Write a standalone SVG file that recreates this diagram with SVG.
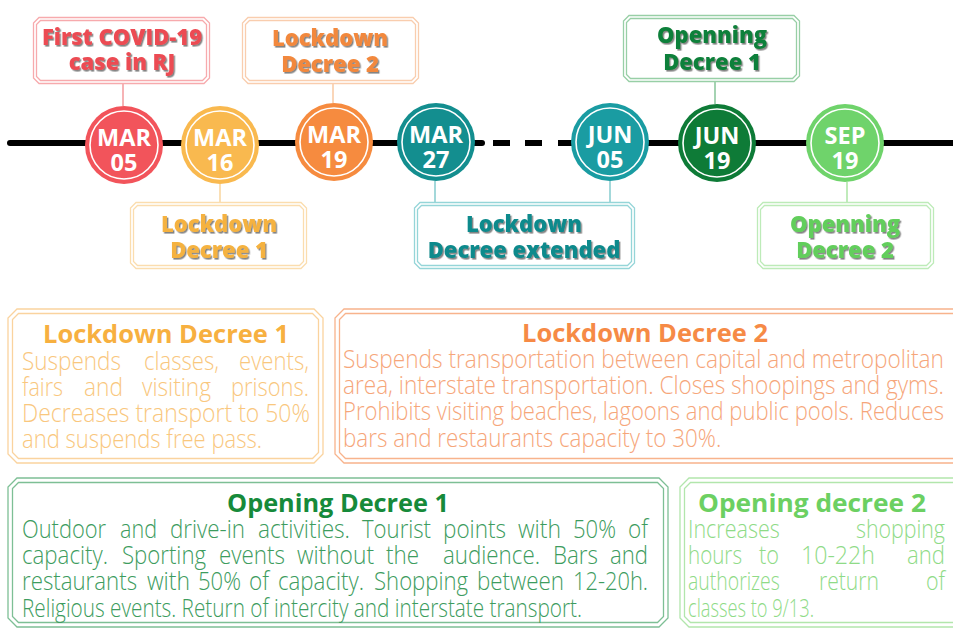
<svg xmlns="http://www.w3.org/2000/svg" width="953" height="628" viewBox="0 0 953 628">
<style>
  .bg{fill:#fff}
  .frame{fill:none;stroke-width:1.3}
  .lbl{font-family:"Open Sans","Liberation Sans",sans-serif;font-weight:800;font-size:22px;text-anchor:middle;filter:url(#sh)}
  .date{font-family:"Open Sans","Liberation Sans",sans-serif;font-weight:700;font-size:23.5px;fill:#fff;text-anchor:middle}
  .ring{fill:none;stroke:#fff;stroke-width:1.6}
  .ttl{font-family:"Open Sans","Liberation Sans",sans-serif;font-weight:700;font-size:25px}
  .body{font-family:"Open Sans","Liberation Sans",sans-serif;font-weight:300;font-size:25px}
  .conn{stroke-width:1.5;fill:none}
  .axis{stroke:#000;stroke-width:6;fill:none}
</style>
<defs>
  <filter id="sh" x="-10%" y="-30%" width="120%" height="160%">
    <feDropShadow dx="1.4" dy="1.6" stdDeviation="0.7" flood-color="#333" flood-opacity="0.6"/>
  </filter>
  <!-- double chamfered frame used by the small event labels -->
  <g id="lf">
    <path d="M6,0.5 H171 L176.5,6 V61 L171,66.5 H6 L0.5,61 V6 Z"/>
    <path d="M7.5,3.5 H169.5 L173.5,7.5 V59.5 L169.5,63.5 H7.5 L3.5,59.5 V7.5 Z"/>
  </g>
</defs>
<rect class="bg" width="953" height="628"/>

<!-- timeline axis and connectors -->
<g id="connectors">
  <path class="axis" d="M10,143 H482" stroke-linecap="round"/>
  <path class="axis" d="M493,143 H510 M525,143 H542 M558,143 H953"/>
  <path class="conn" stroke="#F39A9D" d="M123,84 V106"/>
  <path class="conn" stroke="#F9C9A2" d="M333,84 V103"/>
  <path class="conn" stroke="#F9D49C" d="M220,184 V202"/>
  <path class="conn" stroke="#84CBCE" d="M435,181 V202"/>
  <path class="conn" stroke="#84CBCE" d="M610,181 V202"/>
  <path class="conn" stroke="#86C598" d="M715,82 V104"/>
  <path class="conn" stroke="#ABE4A5" d="M847,182 V202"/>
</g>

<!-- dates on the axis -->
<g id="mar05"><circle cx="124" cy="145" r="39" fill="#F2545B"/><circle class="ring" cx="124" cy="145" r="34"/><text class="date" x="124" y="146">MAR</text><text class="date" x="124" y="171">05</text></g>
<g id="mar16"><circle cx="220" cy="145" r="39" fill="#F9B94F"/><circle class="ring" cx="220" cy="145" r="34"/><text class="date" x="220" y="146">MAR</text><text class="date" x="220" y="171">16</text></g>
<g id="mar19"><circle cx="334" cy="142" r="39" fill="#F68B3F"/><circle class="ring" cx="334" cy="142" r="34"/><text class="date" x="334" y="143">MAR</text><text class="date" x="334" y="168">19</text></g>
<g id="mar27"><circle cx="436" cy="142" r="39" fill="#138E8F"/><circle class="ring" cx="436" cy="142" r="34"/><text class="date" x="436" y="143">MAR</text><text class="date" x="436" y="168">27</text></g>
<g id="jun05"><circle cx="610" cy="142" r="39" fill="#1A9CA2"/><circle class="ring" cx="610" cy="142" r="34"/><text class="date" x="610" y="143">JUN</text><text class="date" x="610" y="168">05</text></g>
<g id="jun19"><circle cx="717" cy="143" r="39" fill="#0E7B37"/><circle class="ring" cx="717" cy="143" r="34"/><text class="date" x="717" y="144">JUN</text><text class="date" x="717" y="169">19</text></g>
<g id="sep19"><circle cx="845" cy="143" r="39" fill="#6FD36B"/><circle class="ring" cx="845" cy="143" r="34"/><text class="date" x="845" y="144">SEP</text><text class="date" x="845" y="169">19</text></g>

<!-- event labels -->
<g id="label-first-case">
  <use href="#lf" transform="translate(33,17)" class="frame" stroke="#F7AAAD"/>
  <text class="lbl" x="122" y="45" fill="#EC4B52">First COVID-19</text>
  <text class="lbl" x="122" y="70" fill="#EC4B52">case in RJ</text>
</g>
<g id="label-lockdown-2">
  <use href="#lf" transform="translate(242,17)" class="frame" stroke="#F9CDAE"/>
  <text class="lbl" x="330" y="46" fill="#F2883C">Lockdown</text>
  <text class="lbl" x="330" y="72" fill="#F2883C">Decree 2</text>
</g>
<g id="label-lockdown-1">
  <use href="#lf" transform="translate(130,202)" class="frame" stroke="#FBDDAE"/>
  <text class="lbl" x="219" y="232" fill="#F5B23F">Lockdown</text>
  <text class="lbl" x="219" y="258" fill="#F5B23F">Decree 1</text>
</g>
<g id="label-extended">
  <path class="frame" stroke="#95D5D8" d="M420,202.5 H629 L634.5,208 V263 L629,268.5 H420 L414.5,263 V208 Z M421.5,205.5 H627.5 L631.5,209.5 V261.5 L627.5,265.5 H421.5 L417.5,261.5 V209.5 Z"/>
  <text class="lbl" x="524" y="232" fill="#108A8C">Lockdown</text>
  <text class="lbl" x="524" y="258" fill="#108A8C">Decree extended</text>
</g>
<g id="label-opening-1">
  <use href="#lf" transform="translate(623,15)" class="frame" stroke="#98CFA6"/>
  <text class="lbl" x="712" y="43" fill="#11803A">Openning</text>
  <text class="lbl" x="712" y="70" fill="#11803A">Decree 1</text>
</g>
<g id="label-opening-2">
  <use href="#lf" transform="translate(757,202)" class="frame" stroke="#BDEBB8"/>
  <text class="lbl" x="845" y="232" fill="#62CE5B">Openning</text>
  <text class="lbl" x="845" y="258" fill="#62CE5B">Decree 2</text>
</g>

<!-- decree details -->
<g id="detail-lockdown-1">
  <path class="frame" stroke="#FAD39E" d="M17,309 H314 L323,318 V454 L314,463 H17 L8,454 V318 Z M18.5,313.5 H312.5 L318.5,319.5 V452.5 L312.5,458.5 H18.5 L12.5,452.5 V319.5 Z"/>
  <text class="ttl" x="43" y="343" textLength="246" lengthAdjust="spacingAndGlyphs" fill="#F7B040">Lockdown Decree 1</text>
  <g class="body" fill="#F9C77E">
    <text x="22" y="370" textLength="99" lengthAdjust="spacingAndGlyphs">Suspends</text>
    <text x="144" y="370" textLength="75" lengthAdjust="spacingAndGlyphs">classes,</text>
    <text x="239" y="370" textLength="70" lengthAdjust="spacingAndGlyphs">events,</text>
    <text x="22" y="396" textLength="41" lengthAdjust="spacingAndGlyphs">fairs</text>
    <text x="84" y="396" textLength="39" lengthAdjust="spacingAndGlyphs">and</text>
    <text x="142" y="396" textLength="69" lengthAdjust="spacingAndGlyphs">visiting</text>
    <text x="231" y="396" textLength="78" lengthAdjust="spacingAndGlyphs">prisons.</text>
    <text x="22" y="422" textLength="288" lengthAdjust="spacingAndGlyphs">Decreases transport to 50%</text>
    <text x="22" y="448" textLength="240" lengthAdjust="spacingAndGlyphs">and suspends free pass.</text>
  </g>
</g>
<g id="detail-lockdown-2">
  <path class="frame" stroke="#F8B38C" d="M344,309 H956 L965,318 V454 L956,463 H344 L335,454 V318 Z M345.5,313.5 H954.5 L960.5,319.5 V452.5 L954.5,458.5 H345.5 L339.5,452.5 V319.5 Z"/>
  <text class="ttl" x="522" y="342" textLength="246" lengthAdjust="spacingAndGlyphs" fill="#F68A46">Lockdown Decree 2</text>
  <!-- body set in a horizontally condensed frame starting at x=343 -->
  <g class="body" fill="#F6A67A" transform="translate(343,0) scale(0.85,1)">
    <text x="0" y="368" textLength="707" lengthAdjust="spacingAndGlyphs">Suspends transportation between capital and metropolitan</text>
    <text x="0" y="394" textLength="707" lengthAdjust="spacingAndGlyphs">area, interstate transportation. Closes shoopings and gyms.</text>
    <text x="0" y="420" textLength="707" lengthAdjust="spacingAndGlyphs">Prohibits visiting beaches, lagoons and public pools. Reduces</text>
    <text x="0" y="447" textLength="445" lengthAdjust="spacingAndGlyphs">bars and restaurants capacity  to 30%.</text>
  </g>
</g>
<g id="detail-opening-1">
  <path class="frame" stroke="#7DBF95" d="M17,478 H659 L668,487 V618 L659,627 H17 L8,618 V487 Z M18.5,482.5 H657.5 L663.5,488.5 V616.5 L657.5,622.5 H18.5 L12.5,616.5 V488.5 Z"/>
  <text class="ttl" x="227" y="512" textLength="222" lengthAdjust="spacingAndGlyphs" fill="#168A3A">Opening Decree 1</text>
  <g class="body" fill="#3D9C5E">
    <text x="22" y="538" textLength="84" lengthAdjust="spacingAndGlyphs">Outdoor</text>
    <text x="120" y="538" textLength="37" lengthAdjust="spacingAndGlyphs">and</text>
    <text x="170" y="538" textLength="75" lengthAdjust="spacingAndGlyphs">drive-in</text>
    <text x="258" y="538" textLength="92" lengthAdjust="spacingAndGlyphs">activities.</text>
    <text x="362" y="538" textLength="69" lengthAdjust="spacingAndGlyphs">Tourist</text>
    <text x="443" y="538" textLength="63" lengthAdjust="spacingAndGlyphs">points</text>
    <text x="518" y="538" textLength="43" lengthAdjust="spacingAndGlyphs">with</text>
    <text x="573" y="538" textLength="43" lengthAdjust="spacingAndGlyphs">50%</text>
    <text x="628" y="538" textLength="20" lengthAdjust="spacingAndGlyphs">of</text>
    <text x="22" y="564" textLength="86" lengthAdjust="spacingAndGlyphs">capacity.</text>
    <text x="122" y="564" textLength="84" lengthAdjust="spacingAndGlyphs">Sporting</text>
    <text x="219" y="564" textLength="66" lengthAdjust="spacingAndGlyphs">events</text>
    <text x="297" y="564" textLength="77" lengthAdjust="spacingAndGlyphs">without</text>
    <text x="386" y="564" textLength="33" lengthAdjust="spacingAndGlyphs">the</text>
    <text x="443" y="564" textLength="97" lengthAdjust="spacingAndGlyphs">audience.</text>
    <text x="553" y="564" textLength="45" lengthAdjust="spacingAndGlyphs">Bars</text>
    <text x="610" y="564" textLength="38" lengthAdjust="spacingAndGlyphs">and</text>
    <text x="22" y="590" textLength="115" lengthAdjust="spacingAndGlyphs">restaurants</text>
    <text x="147" y="590" textLength="43" lengthAdjust="spacingAndGlyphs">with</text>
    <text x="198" y="590" textLength="43" lengthAdjust="spacingAndGlyphs">50%</text>
    <text x="249" y="590" textLength="20" lengthAdjust="spacingAndGlyphs">of</text>
    <text x="278" y="590" textLength="86" lengthAdjust="spacingAndGlyphs">capacity.</text>
    <text x="374" y="590" textLength="94" lengthAdjust="spacingAndGlyphs">Shopping</text>
    <text x="477" y="590" textLength="87" lengthAdjust="spacingAndGlyphs">between</text>
    <text x="573" y="590" textLength="75" lengthAdjust="spacingAndGlyphs">12-20h.</text>
    <text x="22" y="617" textLength="560" lengthAdjust="spacingAndGlyphs">Religious events. Return of intercity and interstate transport.</text>
  </g>
</g>
<g id="detail-opening-2">
  <path class="frame" stroke="#B2E6AC" d="M689,478 H956 L965,487 V618 L956,627 H689 L680,618 V487 Z M690.5,482.5 H954.5 L960.5,488.5 V616.5 L954.5,622.5 H690.5 L684.5,616.5 V488.5 Z"/>
  <text class="ttl" x="698" y="512" textLength="228" lengthAdjust="spacingAndGlyphs" fill="#6CD062">Opening decree 2</text>
  <!-- body set in a horizontally condensed frame starting at x=688 -->
  <g class="body" fill="#8FDB87" transform="translate(688,0) scale(0.85,1)">
    <text x="0" y="538" textLength="108" lengthAdjust="spacingAndGlyphs">Increases</text>
    <text x="197.6" y="538" textLength="104.7" lengthAdjust="spacingAndGlyphs">shopping</text>
    <text x="0" y="564" textLength="63.5" lengthAdjust="spacingAndGlyphs">hours</text>
    <text x="83.5" y="564" textLength="23.5" lengthAdjust="spacingAndGlyphs">to</text>
    <text x="132.9" y="564" textLength="87.1" lengthAdjust="spacingAndGlyphs">10-22h</text>
    <text x="257.6" y="564" textLength="44.7" lengthAdjust="spacingAndGlyphs">and</text>
    <text x="0" y="590" textLength="108" lengthAdjust="spacingAndGlyphs">authorizes</text>
    <text x="154.1" y="590" textLength="70.6" lengthAdjust="spacingAndGlyphs">return</text>
    <text x="280" y="590" textLength="22.4" lengthAdjust="spacingAndGlyphs">of</text>
    <text x="0" y="617" textLength="148.2" lengthAdjust="spacingAndGlyphs">classes to 9/13.</text>
  </g>
</g>
</svg>
